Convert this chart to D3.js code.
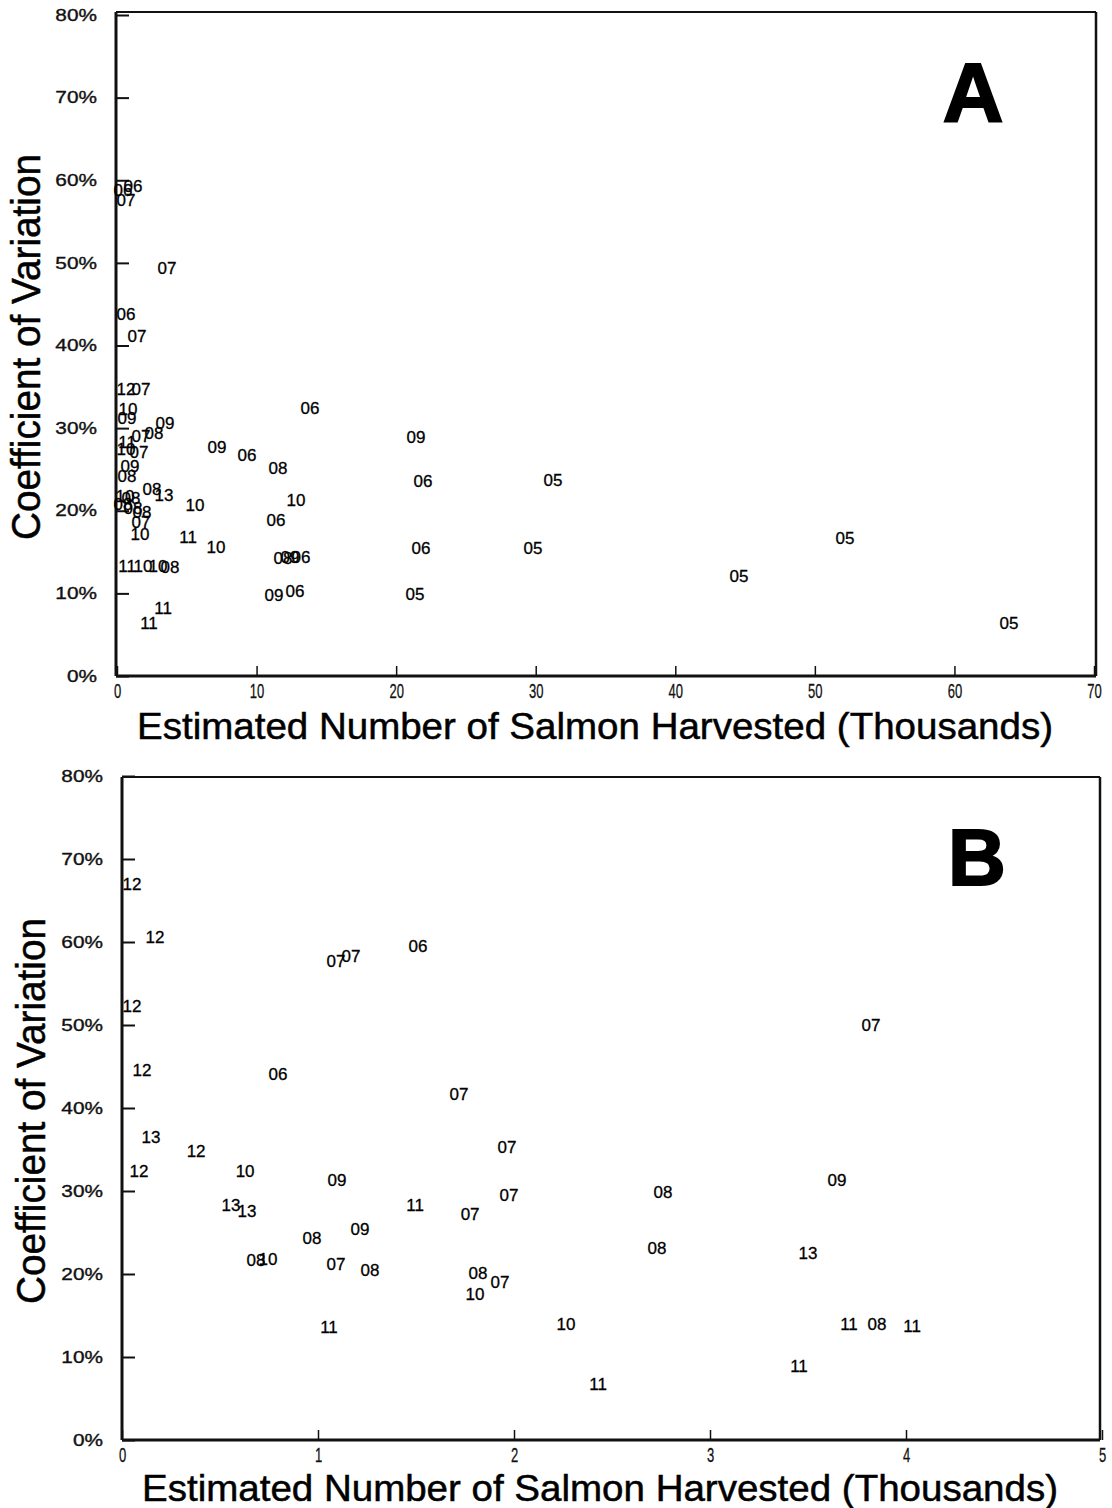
<!DOCTYPE html>
<html>
<head>
<meta charset="utf-8">
<script src="https://cdn.jsdelivr.net/npm/d3@7"></script>
<style>
  html, body { margin: 0; padding: 0; background: #fff; }
  svg { display: block; }
  .pt { font-family: "Liberation Sans", Arial, Helvetica, sans-serif; font-size: 17px; fill: #000; stroke: #000; stroke-width: 0.3px; }
  .ytick text { font-family: "Liberation Sans", Arial, sans-serif; font-size: 16px; fill: #111; stroke: #111; stroke-width: 0.35px; }
  .xtick text { font-family: "Liberation Sans", Arial, sans-serif; font-size: 21px; fill: #111; stroke: #111; stroke-width: 0.3px; }
  .title { font-family: "Liberation Sans", Arial, sans-serif; fill: #000; stroke: #000; stroke-width: 0.5px; }
  .letter { font-family: "Liberation Sans", Arial, sans-serif; font-weight: 900; fill: #000; stroke: #000; stroke-width: 2px; }
</style>
</head>
<body>
<svg id="chart" width="1112" height="1508"></svg>
<script>
// Panel A: all rivers, harvest in thousands of salmon
const yearA = ["06","06","07","07","06","07","12","07","10","09","09","07","08","11","10","07","09","08","08","13","10","08","08","08","08","07","10","11","10","11","10","10","08","11","11","06","09","06","08","10","10","06","08","09","06","09","06","09","06","06","05","05","05","05","05","05"];
const harvestA = [1.15,0.43,0.64,3.58,0.64,1.43,0.64,1.72,0.79,0.72,3.44,1.72,2.65,0.72,0.64,1.58,0.93,0.72,2.51,3.37,0.57,1.00,0.43,1.15,1.79,1.72,1.65,5.09,7.09,0.72,1.86,2.94,3.80,3.30,2.29,13.83,7.16,9.31,11.54,12.83,5.59,11.39,11.89,12.40,13.18,11.25,12.75,21.42,21.92,21.78,21.35,31.24,29.81,52.16,44.57,63.91];
const cvA = [59.3,58.8,57.5,49.3,43.8,41.1,34.7,34.7,32.2,31.2,30.5,29.0,29.3,28.3,27.4,27.0,25.3,24.2,22.6,21.8,21.7,21.5,20.7,20.3,19.8,18.6,17.1,16.8,15.5,13.3,13.3,13.2,13.1,8.2,6.3,32.4,27.7,26.7,25.1,21.3,20.6,18.8,14.2,14.3,14.3,9.8,10.2,28.9,23.6,15.4,9.9,23.7,15.4,16.7,12.0,6.3];

// Panel B: enlarged view of the low-harvest rivers
const yearB = ["12","12","12","12","06","07","07","06","13","12","12","10","09","13","13","08","09","08","10","07","08","11","07","07","11","07","07","08","08","08","07","10","10","11","07","09","13","11","08","11","11"];
const harvestB = [0.051,0.168,0.051,0.102,0.796,1.092,1.168,1.510,0.148,0.378,0.087,0.628,1.097,0.556,0.638,0.969,1.214,0.684,0.745,1.092,1.265,1.056,1.719,1.964,1.495,1.974,1.776,2.760,2.730,1.816,1.929,1.801,2.265,2.429,3.821,3.648,3.500,3.709,3.852,4.031,3.454];
const cvB = [66.9,60.6,52.2,44.5,44.0,57.6,58.3,59.4,36.4,34.8,32.4,32.3,31.3,28.3,27.5,24.3,25.4,21.6,21.8,21.1,20.4,13.5,41.6,35.2,28.2,29.5,27.2,29.8,23.1,20.1,19.0,17.5,13.9,6.7,50.0,31.3,22.5,13.9,13.9,13.7,8.9];

const cvTicks = [0, 10, 20, 30, 40, 50, 60, 70, 80];
const xTicksA = [0, 10, 20, 30, 40, 50, 60, 70];
const xTicksB = [0, 1, 2, 3, 4, 5];

const yTitle = "Coefficient of Variation";
const xTitle = "Estimated Number of Salmon Harvested (Thousands)";

const svg = d3.select("#chart");

function panel(cfg) {
  const g = svg.append("g");
  const x = d3.scaleLinear().domain(cfg.xDomain).range(cfg.xRange);
  const y = d3.scaleLinear().domain([0, 80]).range(cfg.yRange);

  // y axis with inward ticks; labels drawn in a wide face
  const ya = g.append("g").attr("class", "ytick")
    .attr("transform", `translate(${cfg.frame.left},0)`)
    .call(d3.axisLeft(y).tickValues(cvTicks).tickFormat(d => d + "%")
      .tickSizeInner(-13).tickSizeOuter(0).tickPadding(19));
  ya.select(".domain").remove();
  ya.selectAll("line").attr("stroke", "#111").attr("stroke-width", 2);
  ya.selectAll("text").each(function () {
    const w = this.getComputedTextLength();
    d3.select(this).attr("textLength", w * 1.3).attr("lengthAdjust", "spacingAndGlyphs");
  });

  // x axis with inward ticks; labels drawn in a condensed face
  const xa = g.append("g").attr("class", "xtick")
    .attr("transform", `translate(0,${cfg.frame.bottom})`)
    .call(d3.axisBottom(x).tickValues(cfg.xTicks).tickFormat(d3.format("d"))
      .tickSizeInner(-10).tickSizeOuter(0).tickPadding(7));
  xa.select(".domain").remove();
  xa.selectAll("line").attr("stroke", "#111").attr("stroke-width", 1.5);
  xa.selectAll("text").each(function () {
    const w = this.getComputedTextLength();
    d3.select(this).attr("textLength", w * 0.62).attr("lengthAdjust", "spacingAndGlyphs");
  });

  // frame
  const f = cfg.frame;
  g.append("line").attr("x1", f.left).attr("x2", f.right).attr("y1", f.top).attr("y2", f.top)
    .attr("stroke", "#111").attr("stroke-width", 2);
  g.append("line").attr("x1", f.right).attr("x2", f.right).attr("y1", f.top).attr("y2", f.bottom)
    .attr("stroke", "#111").attr("stroke-width", 2.5);
  g.append("line").attr("x1", f.left).attr("x2", f.right).attr("y1", f.bottom).attr("y2", f.bottom)
    .attr("stroke", "#111").attr("stroke-width", 3);
  g.append("line").attr("x1", f.left).attr("x2", f.left).attr("y1", f.top).attr("y2", f.bottom)
    .attr("stroke", "#111").attr("stroke-width", 3);

  // point labels: each observation is marked by its year code
  const pts = cfg.years.map((yr, i) => ({ yr, h: cfg.harvest[i], cv: cfg.cv[i] }));
  g.append("g").selectAll("text").data(pts).join("text")
    .attr("class", "pt")
    .attr("x", d => x(d.h))
    .attr("y", d => y(d.cv))
    .attr("text-anchor", "middle")
    .attr("dominant-baseline", "central")
    .text(d => d.yr);

  // panel letter
  g.append("text").attr("class", "letter")
    .attr("x", cfg.letterPos[0]).attr("y", cfg.letterPos[1])
    .attr("text-anchor", "middle").attr("font-size", cfg.letterSize)
    .text(cfg.letter);

  // axis titles
  g.append("text").attr("class", "title")
    .attr("transform", `translate(${cfg.yTitlePos[0]},${cfg.yTitlePos[1]}) rotate(-90)`)
    .attr("text-anchor", "middle").attr("font-size", 40)
    .attr("textLength", 386).attr("lengthAdjust", "spacingAndGlyphs")
    .text(yTitle);
  g.append("text").attr("class", "title")
    .attr("x", cfg.xTitlePos[0]).attr("y", cfg.xTitlePos[1])
    .attr("text-anchor", "middle").attr("font-size", 37)
    .attr("textLength", 916).attr("lengthAdjust", "spacingAndGlyphs")
    .text(xTitle);
}

panel({
  xDomain: [0, 70], xRange: [117, 1094], yRange: [676, 15],
  frame: { left: 116, right: 1096, top: 12, bottom: 676 },
  xTicks: xTicksA,
  years: yearA, harvest: harvestA, cv: cvA,
  letter: "A", letterPos: [973, 122], letterSize: 84,
  yTitlePos: [40, 347], xTitlePos: [595, 739]
});

panel({
  xDomain: [0, 5], xRange: [122, 1102], yRange: [1440, 776],
  frame: { left: 122, right: 1100, top: 777, bottom: 1440 },
  xTicks: xTicksB,
  years: yearB, harvest: harvestB, cv: cvB,
  letter: "B", letterPos: [977, 885], letterSize: 80,
  yTitlePos: [45, 1111], xTitlePos: [600, 1501]
});
</script>
</body>
</html>
